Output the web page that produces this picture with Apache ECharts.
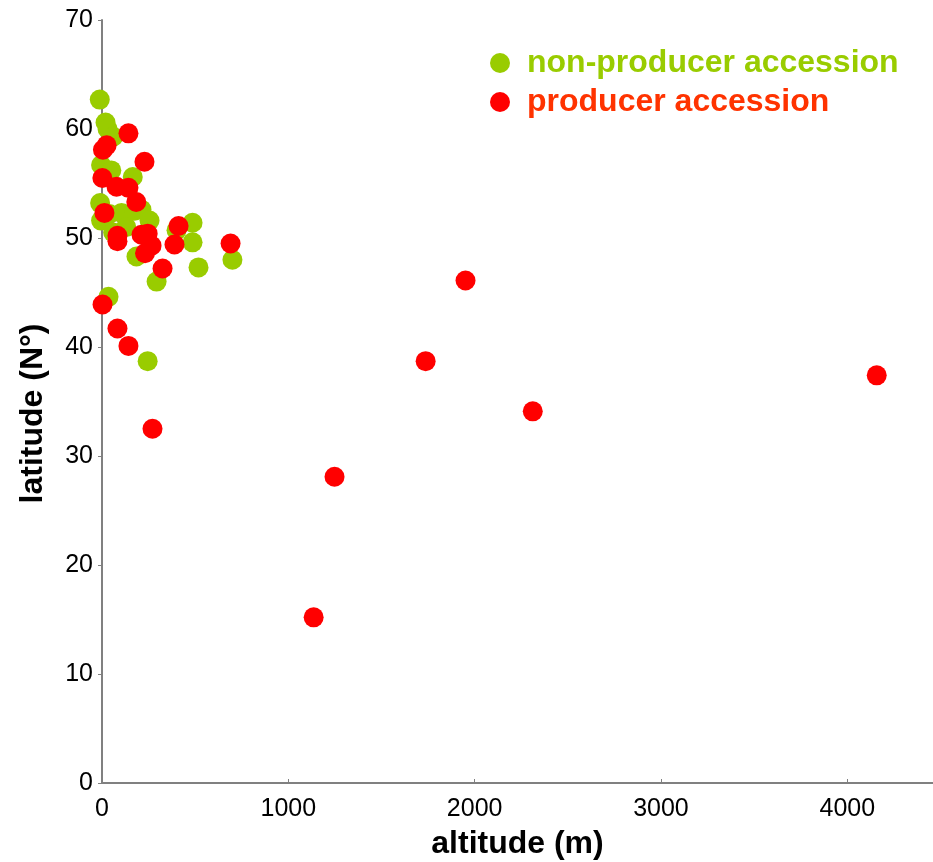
<!DOCTYPE html>
<html>
<head>
<meta charset="utf-8">
<script src="https://cdn.jsdelivr.net/npm/echarts@6/dist/echarts.min.js"></script>
<style>
  html, body { margin: 0; padding: 0; background: #fff; }
  #chart { width: 933px; height: 862px; }
</style>
</head>
<body>
<div id="chart"></div>
<script>
// altitude (m), latitude (N°)
var nonProducer = [
    [-12, 62.7], [19, 60.6], [30, 60.0], [60, 59.3], [-5, 56.7], [50, 56.2],
    [165, 55.6], [-10, 53.2], [40, 52.2], [105, 52.3], [175, 52.5], [212, 52.6],
    [255, 51.6], [-5, 51.6], [486, 51.4], [400, 50.7], [486, 49.6], [185, 48.3],
    [518, 47.3], [700, 48.0], [293, 46.0], [35, 44.6], [245, 38.7], [60, 50.5],
    [130, 51.0]
];
var producer = [
    [4158, 37.4], [1951, 46.1], [2312, 34.1], [1737, 38.7], [1248, 28.1], [1136, 15.2],
    [271, 32.5], [142, 40.1], [83, 41.7], [3, 43.9], [690, 49.5], [325, 47.2],
    [389, 49.4], [411, 51.1], [231, 48.6], [245, 50.4], [212, 50.3], [266, 49.3],
    [83, 49.7], [83, 50.2], [142, 59.6], [5, 58.1], [25, 58.5], [228, 57.0],
    [2, 55.5], [78, 54.7], [142, 54.6], [184, 53.3], [13, 52.3]
];
var seriesNames = ['non-producer accession', 'producer accession'];

var myChart = echarts.init(document.getElementById('chart'));

var font = 'Liberation Sans, Arial, sans-serif';

option = {
    animation: false,
    textStyle: { fontFamily: font },
    grid: { left: 102, right: 0, top: 20, bottom: 79, containLabel: false, outerBoundsMode: 'none' },
    legend: {
        orient: 'vertical',
        left: 485,
        top: 42,
        itemWidth: 20,
        itemHeight: 20,
        itemGap: 7,
        icon: 'circle',
        textStyle: { fontSize: 32, fontWeight: 'bold', fontFamily: font, padding: [0, 0, 0, 12] },
        data: [
            { name: seriesNames[0], textStyle: { color: '#99cc00' } },
            { name: seriesNames[1], textStyle: { color: '#ff3300' } }
        ]
    },
    xAxis: {
        type: 'value',
        min: 0,
        max: 4460,
        interval: 1000,
        name: 'altitude (m)',
        nameLocation: 'middle',
        nameGap: 45,
        nameTextStyle: { fontSize: 32, fontWeight: 'bold', color: '#000' },
        splitLine: { show: false },
        axisLine: { lineStyle: { color: '#808080', width: 2 } },
        axisTick: { inside: true, length: 4, lineStyle: { color: '#808080' } },
        axisLabel: {
            fontSize: 25, color: '#000', margin: 14,
            showMaxLabel: false,
            formatter: function (v) { return String(v); }
        }
    },
    yAxis: {
        type: 'value',
        min: 0,
        max: 70,
        interval: 10,
        name: 'latitude (N°)',
        nameLocation: 'middle',
        nameGap: 53,
        nameTextStyle: { fontSize: 32, fontWeight: 'bold', color: '#000', padding: [0, 24, 0, 0] },
        splitLine: { show: false },
        axisLine: { show: true, lineStyle: { color: '#808080', width: 2 } },
        axisTick: { show: true, length: 4, lineStyle: { color: '#808080' } },
        axisLabel: { fontSize: 25, color: '#000', margin: 9 }
    },
    series: [
        {
            name: seriesNames[0],
            type: 'scatter',
            clip: false,
            symbolSize: 20,
            itemStyle: { color: '#99cc00', opacity: 1 },
            data: nonProducer
        },
        {
            name: seriesNames[1],
            type: 'scatter',
            clip: false,
            symbolSize: 20,
            itemStyle: { color: '#ff0000', opacity: 1 },
            data: producer
        }
    ]
};

myChart.setOption(option);
</script>
</body>
</html>
